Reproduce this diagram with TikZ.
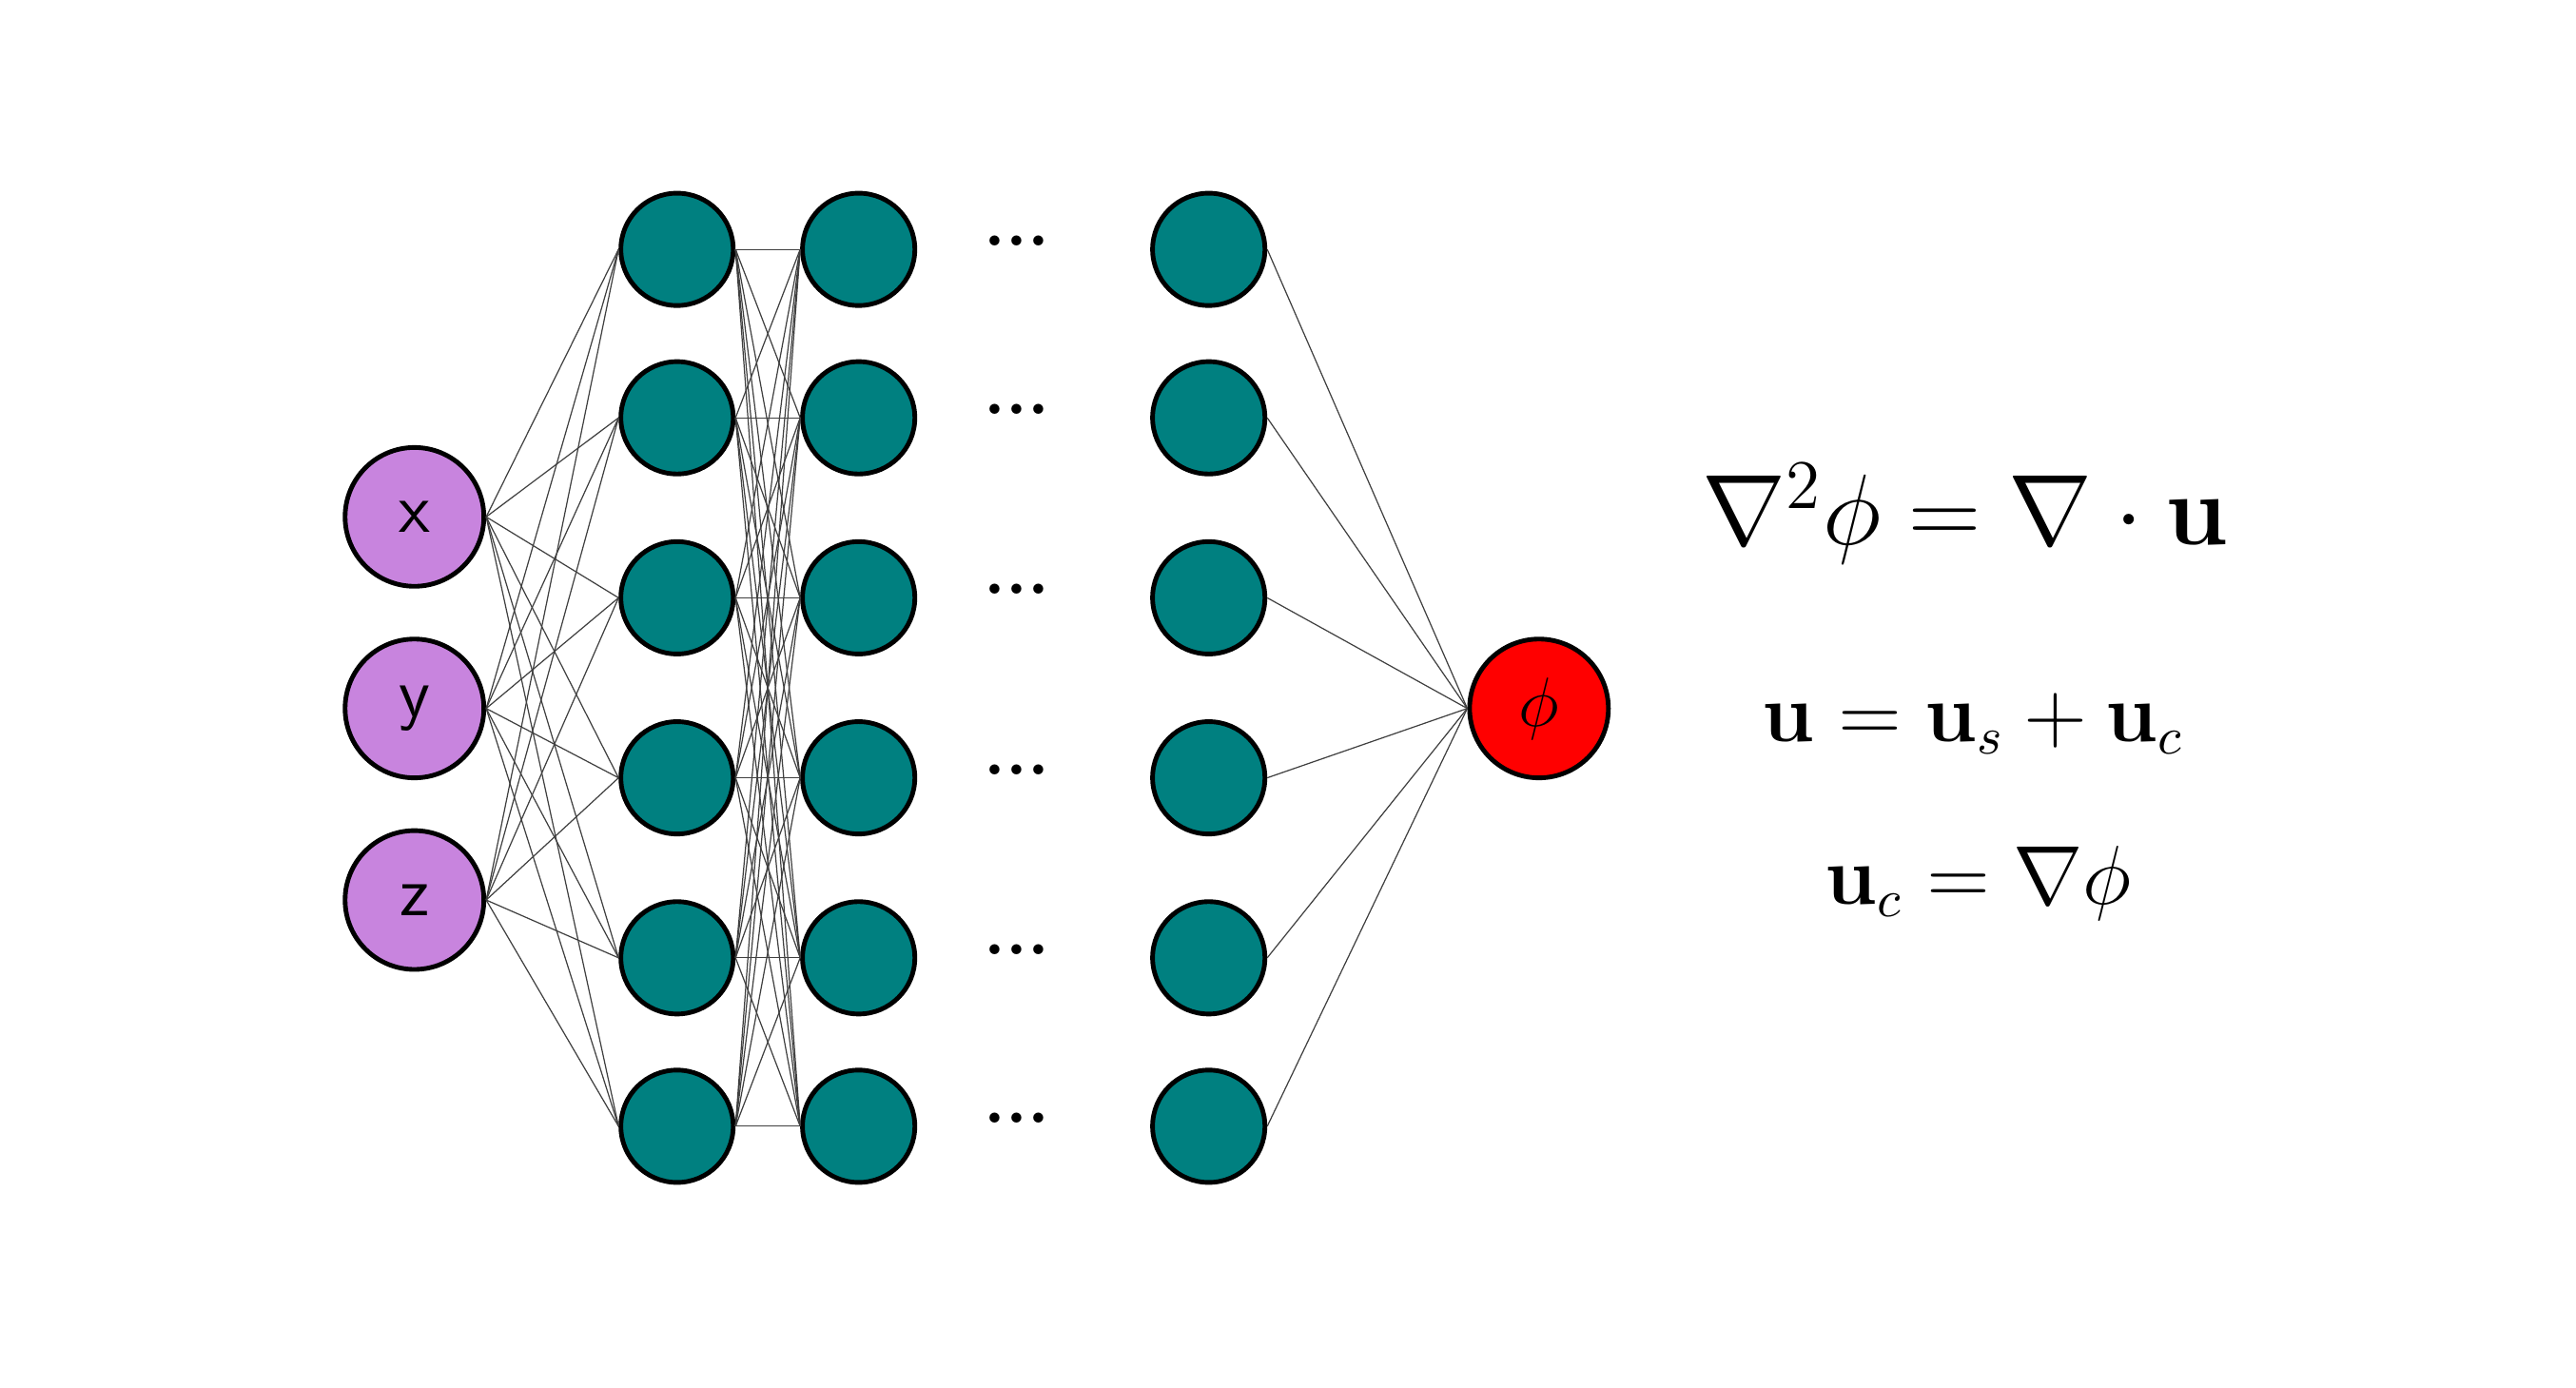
\documentclass[tikz,border=0pt]{standalone}
\usepackage{amsmath}
\usepackage{tikz}
\definecolor{inpfill}{RGB}{200,132,222}
\definecolor{hidfill}{RGB}{0,128,128}
\begin{document}
\begin{tikzpicture}[x=0.01cm,y=-0.01cm]
\tikzset{
	inp/.style={draw, thick, circle, fill=inpfill, minimum size=0.84cm, inner sep=0pt, font=\sffamily\large},
	hid/.style={draw, thick, circle, fill=hidfill, minimum size=0.68cm, inner sep=0pt},
	outp/.style={draw, thick, circle, fill=red, minimum size=0.84cm, inner sep=0pt, font=\large},
	wire/.style={draw=black!75, very thin},
}
\useasboundingbox (0,0) rectangle (1560,840);

% inputs
\node[inp] (I1) at (251,313) {x};
\node[inp] (I2) at (251,429) {y};
\node[inp] (I3) at (251,545) {z};

% hidden layers
\foreach \j/\yy in {1/151,2/253,3/362,4/471,5/580,6/682}{
	\node[hid] (A\j) at (410,\yy) {};
	\node[hid] (B\j) at (520,\yy) {};
	\node[hid] (C\j) at (732,\yy) {};
	\node[font=\large\bfseries] (D\j) at (616,\yy-5) {...};
}
\node[outp] (O) at (932,429) {$\phi$};

% connections
\foreach \i in {1,2,3}
	\foreach \j in {1,...,6}
		\draw[wire] (I\i.east) -- (A\j.west);
\foreach \i in {1,...,6}
	\foreach \j in {1,...,6}
		\draw[wire] (A\i.east) -- (B\j.west);
\foreach \j in {1,...,6}
	\draw[wire] (C\j.east) -- (O.west);

% equations
\node[font=\fontsize{17.5}{21}\selectfont] (E1) at (1190,311) {$\nabla^2\phi = \nabla\cdot\mathbf{u}$};
\node[font=\fontsize{13.4}{16}\selectfont] (E2) at (1195,438) {$\mathbf{u} = \mathbf{u}_s + \mathbf{u}_c$};
\node[font=\fontsize{13.4}{16}\selectfont] (E3) at (1198,535) {$\mathbf{u}_c = \nabla\phi$};
\end{tikzpicture}
\end{document}
